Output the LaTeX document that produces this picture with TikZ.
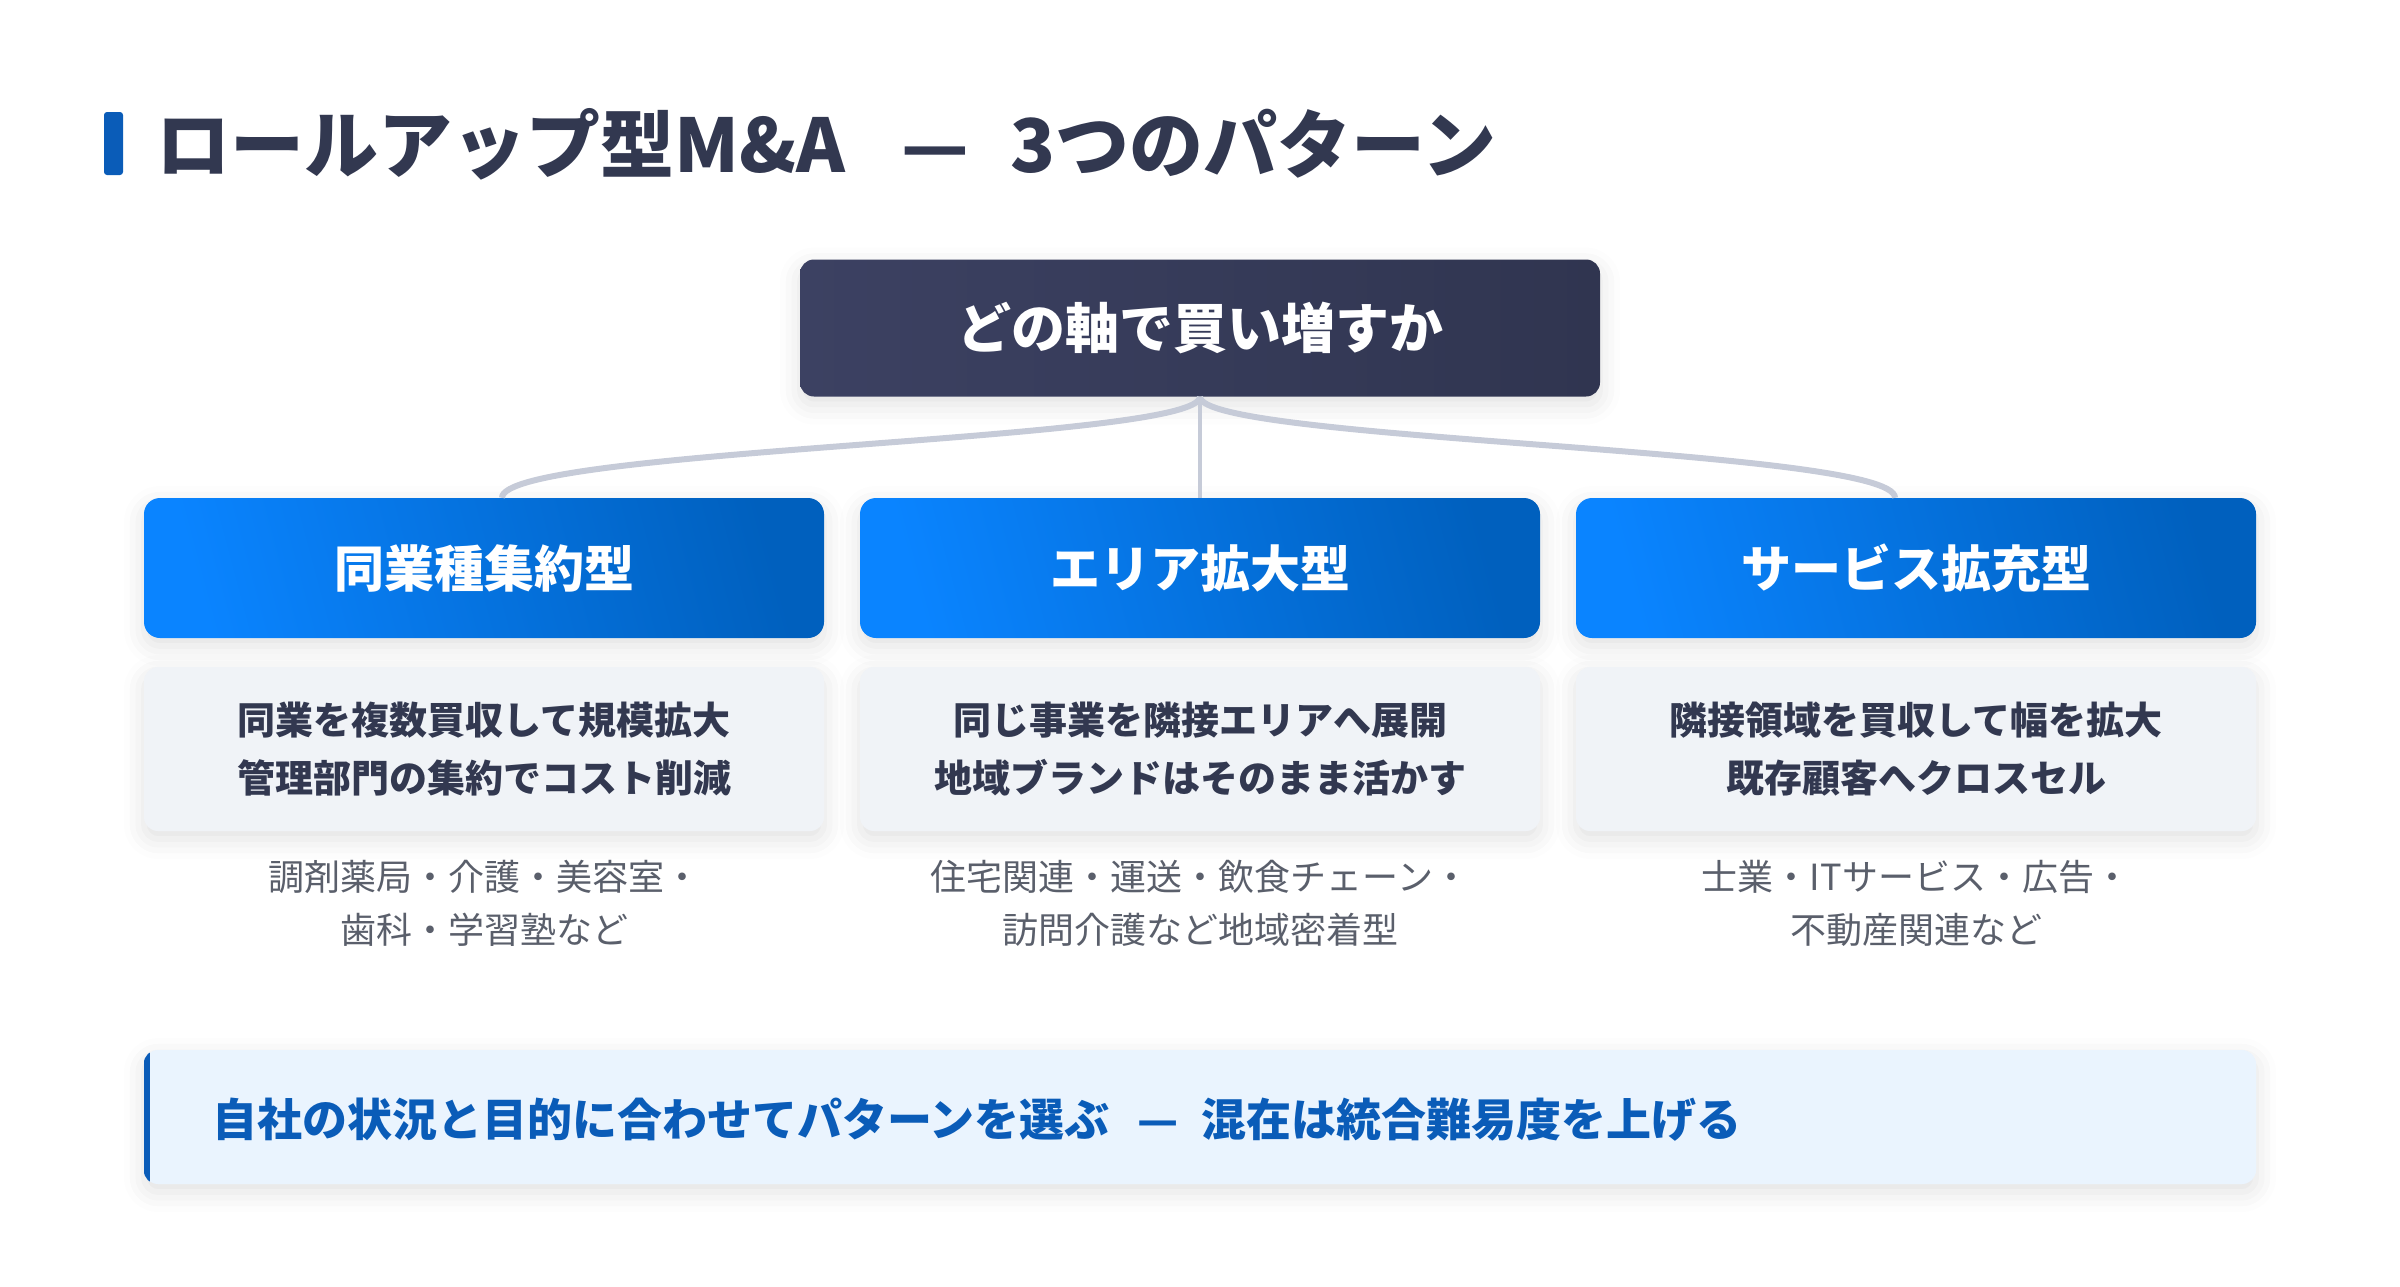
\documentclass[tikz,border=0pt]{standalone}
\usepackage{fontspec}
\setmainfont{Noto Sans CJK JP}
\usetikzlibrary{shadows.blur}

\definecolor{ink}{HTML}{323850}
\definecolor{accent}{HTML}{0A5CB8}
\definecolor{linkgray}{HTML}{C6CBD8}
\definecolor{softgray}{HTML}{F0F3F7}
\definecolor{notegray}{HTML}{5A5F6B}
\definecolor{noteblue}{HTML}{EAF4FE}
\definecolor{rootleft}{HTML}{3C4162}
\definecolor{rootright}{HTML}{303550}
\definecolor{typeleft}{HTML}{0A84FF}
\definecolor{typeright}{HTML}{0060BE}

\tikzset{
  boxshadow/.style={blur shadow={shadow xshift=0pt, shadow yshift=-8pt, shadow blur radius=20pt, shadow opacity=12}},
  rootbox/.style={boxshadow, rounded corners=14pt, minimum width=800pt, minimum height=137pt,
    left color=rootleft, right color=rootright,
    text=white, font=\fontsize{54}{64}\selectfont\bfseries},
  typebox/.style={boxshadow, rounded corners=16pt, minimum width=680pt, minimum height=140pt,
    left color=typeleft, right color=typeright, shading angle=105,
    text=white, font=\fontsize{50}{60}\selectfont\bfseries},
  descbox/.style={boxshadow, fill=softgray, rounded corners=14pt, minimum width=680pt, minimum height=164pt,
    text=ink, align=center, font=\fontsize{38}{58}\selectfont\bfseries},
  example/.style={text=notegray, align=center, font=\fontsize{36}{53}\selectfont},
  link/.style={draw=linkgray, line width=6pt},
}

\begin{document}
\begin{tikzpicture}[x=1pt, y=-1pt]
  \useasboundingbox (0,0) rectangle (2400,1286);

  % title
  \fill[accent, rounded corners=3pt] (104,112) rectangle (123,175);
  \node[anchor=west, text=ink, font=\fontsize{74}{86}\selectfont\bfseries, inner sep=0pt] (title) at (156,144) {ロールアップ型M\&A\hspace{56pt}—\hspace{42pt}3つのパターン};

  % root and three patterns
  \node[rootbox] (root) at (1200,328) {どの軸で買い増すか};

  \node[typebox] (same) at (484,568) {同業種集約型};
  \node[typebox] (area) at (1200,568) {エリア拡大型};
  \node[typebox] (serv) at (1916,568) {サービス拡充型};

  \draw[link] (root.south) .. controls +(0,45) and +(0,-50) .. ([xshift=18pt]same.north);
  \draw[link, line width=4pt] (root.south) -- (area.north);
  \draw[link] (root.south) .. controls +(0,45) and +(0,-50) .. ([xshift=-21pt]serv.north);

  \node[descbox] (samed) at (484,749) {同業を複数買収して規模拡大\\管理部門の集約でコスト削減};
  \node[descbox] (aread) at (1200,749) {同じ事業を隣接エリアへ展開\\地域ブランドはそのまま活かす};
  \node[descbox] (servd) at (1916,749) {隣接領域を買収して幅を拡大\\既存顧客へクロスセル};

  \node[example] (samex) at (484,903) {調剤薬局・介護・美容室・\\歯科・学習塾など};
  \node[example] (areax) at (1200,903) {住宅関連・運送・飲食チェーン・\\訪問介護など地域密着型};
  \node[example] (servx) at (1916,903) {士業・ITサービス・広告・\\不動産関連など};

  % bottom note
  \node[boxshadow, fill=noteblue, rounded corners=14pt, minimum width=2112pt, minimum height=134pt] (note) at (1200,1117) {};
  \begin{scope}
    \clip[rounded corners=14pt] (note.north west) rectangle (note.south east);
    \fill[accent] (note.north west) rectangle ([xshift=6pt]note.south west);
  \end{scope}
  \node[anchor=west, text=accent, font=\fontsize{45}{54}\selectfont\bfseries, inner sep=0pt] (notetext) at (212,1120) {自社の状況と目的に合わせてパターンを選ぶ\hspace{28pt}—\hspace{22pt}混在は統合難易度を上げる};
\end{tikzpicture}
\end{document}
